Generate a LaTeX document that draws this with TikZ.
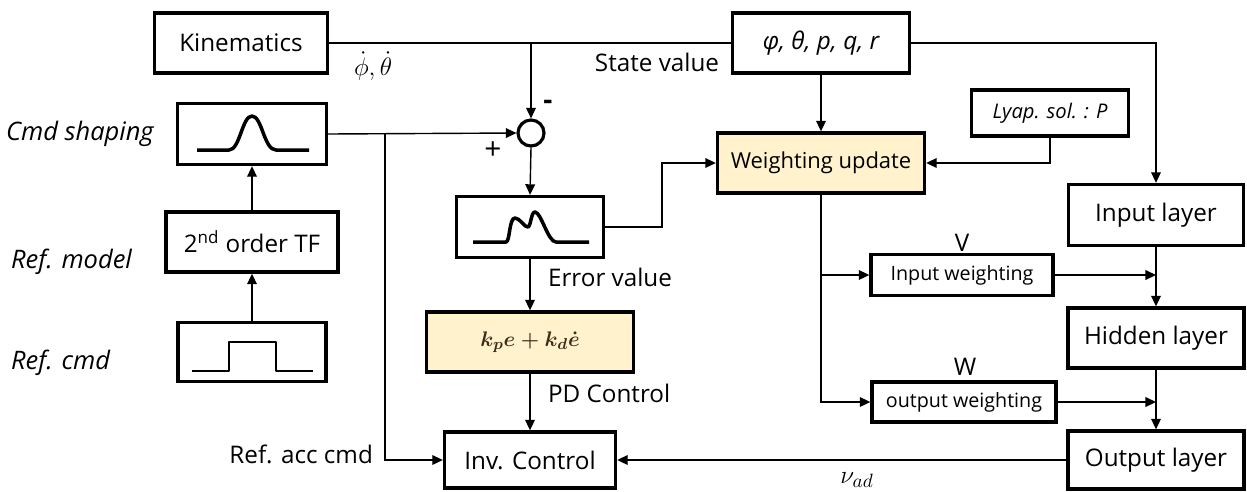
\documentclass[tikz,border=0pt]{standalone}
\usepackage{amsmath}
\usepackage{fontspec}
\setmainfont{Open Sans}
\usetikzlibrary{arrows.meta}
\definecolor{pale}{HTML}{FFF2CC}
\begin{document}
\begin{tikzpicture}[x=0.02cm,y=-0.02cm,
  sz/.style 2 args={minimum width=#1*0.02cm, minimum height=#2*0.02cm},
  blk/.style={draw, line width=1.9pt, inner sep=0pt, font=\fontsize{13.8}{16}\selectfont},
  smallblk/.style={blk, font=\fontsize{11.2}{13}\selectfont},
  hl/.style={fill=pale},
  lbl/.style={inner sep=1pt, font=\fontsize{13.8}{16}\selectfont},
  ilbl/.style={inner sep=1pt, font=\fontsize{14.5}{16}\selectfont\itshape},
  wire/.style={line width=0.8pt},
  arr/.style={wire, -{Triangle[length=6pt,width=5.5pt]}},
  wave/.style={line width=2pt, line join=round}
]
\useasboundingbox (0,0) rectangle (1247,491);

% left column
\node[blk, sz={173}{60}] (kin) at (241,43) {Kinematics};
\node[blk, sz={149}{61}] (shape) at (252,134) {};
\node[blk, sz={172}{60}] (tf) at (252,242) {2\textsuperscript{nd} order TF};
\node[blk, sz={148}{59}] (refc) at (252,352) {};

\draw[wave] (197,150) -- (229,150) .. controls (240,150) and (242,116) .. (252,116)
  .. controls (262,116) and (264,150) .. (276,150) -- (309,150);
\draw[wave, line width=1.5pt] (192,371) -- (229,371) -- (229,342) -- (276,342) -- (276,371) -- (313,371);

\node[ilbl, anchor=west] (l1) at (4,134) {Cmd shaping};
\node[ilbl, anchor=west] (l2) at (9,262) {Ref. model};
\node[ilbl, anchor=west] (l3) at (9,363) {Ref. cmd};

% middle column
\node[draw, circle, line width=1.8pt, minimum size=26*0.02cm, inner sep=0pt] (sum) at (531,133) {};
\node[blk, sz={147}{61}] (err) at (530,227) {};
\draw[wave] (473,242) -- (506,242) .. controls (510,242) and (509,218) .. (515,218)
  .. controls (520,218) and (525,228) .. (528,227) .. controls (531,226) and (531,212) .. (535,212)
  .. controls (541,212) and (548,242) .. (556,242) -- (589,242);
\node[blk, hl, sz={207}{60}, font=\fontsize{13}{15}\selectfont] (pd) at (530,342) {\color[HTML]{3A2E1A}$\boldsymbol{k_p e + k_d \dot e}$};
\node[blk, sz={171}{56}] (inv) at (530,460) {Inv. Control};

% right part
\node[blk, sz={177}{60}] (state) at (821,43) {\itshape φ, θ, p, q, r};
\node[blk, hl, sz={207}{60}, font=\fontsize{12.5}{14}\selectfont] (wu) at (821,163) {Weighting update};
\node[smallblk, sz={157}{46}, font=\fontsize{11.5}{13}\selectfont\itshape] (lyap) at (1050,113) {Lyap. sol. : P};
\node[blk, sz={175}{61}] (inl) at (1156,215) {Input layer};
\node[blk, sz={176}{60}] (hid) at (1156,338) {Hidden layer};
\node[blk, sz={176}{58}] (outl) at (1156,460) {Output layer};
\node[smallblk, sz={182}{41}] (iw) at (962,275) {Input weighting};
\node[smallblk, sz={184}{40}] (ow) at (964,402) {output weighting};

% labels
\node[inner sep=1pt, font=\fontsize{15}{17}\selectfont] (dl) at (373,66) {$\dot\phi,\dot\theta$};
\node[lbl] (sv) at (657,62) {State value};
\node[lbl, font=\fontsize{16}{18}\selectfont\bfseries] (mn) at (548,105) {-};
\node[lbl, font=\fontsize{17}{18}\selectfont] (pl) at (493,151) {+};
\node[lbl, anchor=east] (rac) at (375,454) {Ref. acc cmd};
\node[lbl, anchor=west] (ev) at (546,277) {Error value};
\node[lbl, anchor=west] (pdc) at (546,393) {PD Control};
\node[lbl] (vl) at (962,243) {V};
\node[lbl] (wl) at (965,367) {W};
\node[inner sep=1pt, font=\fontsize{15}{17}\selectfont] (nu) at (857,480) {$\nu_{ad}$};

% connectors
\draw[wire] (kin.east) -- (state.west);
\draw[arr] (sum.north |- kin.east) -- (sum.north);
\draw[arr] (shape.east) -- (sum.west);
\coordinate (br) at (385,134);
\draw[arr] (br) |- (inv.west);
\draw[arr] (tf.north) -- (shape.south);
\draw[arr] (refc.north) -- (tf.south);
\draw[arr] (sum.south) -- (err.north);
\draw[arr] (err.east) -- ++(57,0) |- (wu.west);
\draw[arr] (err.south) -- (pd.north);
\draw[arr] (pd.south) -- (inv.north);
\draw[arr] (state.south) -- (wu.north);
\draw[arr] (state.east) -| (inl.north);
\draw[arr] (lyap.south) |- (wu.east);
\draw[arr] (wu.south) |- (iw.west);
\draw[arr] (wu.south) |- (ow.west);
\draw[arr] (inl.south) -- (hid.north);
\draw[arr] (iw.east) -- (iw.east -| inl.south);
\draw[arr] (hid.south) -- (outl.north);
\draw[arr] (ow.east) -- (ow.east -| hid.south);
\draw[arr] (outl.west) -- (inv.east);
\end{tikzpicture}
\end{document}
